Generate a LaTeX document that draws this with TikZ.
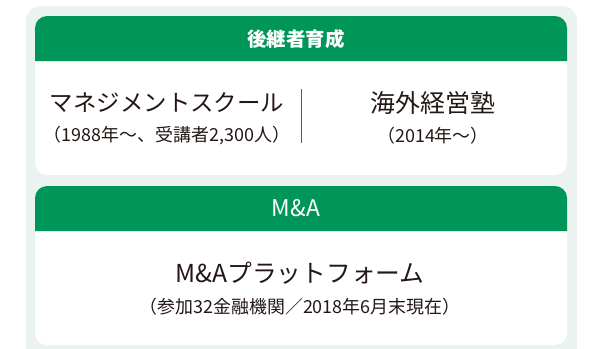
\documentclass[tikz,border=0pt]{standalone}
\usepackage{fontspec}
\setmainfont{Noto Sans CJK JP}
\definecolor{hdrgreen}{RGB}{0,150,90}
\definecolor{outerbg}{RGB}{234,243,239}
\definecolor{txt}{RGB}{35,24,21}
\definecolor{divgreen}{RGB}{0,140,85}
\tikzset{
  hdrtext/.style={text=white, font=\fontsize{19.5}{22}\selectfont\bfseries, inner sep=0pt},
  maintext/.style={text=txt, font=\fontsize{23.5}{27}\selectfont, inner sep=0pt},
  subtext/.style={text=txt, font=\fontsize{18}{21}\selectfont, inner sep=0pt},
  bodybox/.style={fill=white, rounded corners=12bp},
  hdrbox/.style={fill=hdrgreen},
}
\begin{document}
\begin{tikzpicture}[x=1bp,y=-1bp]
\useasboundingbox (0,0) rectangle (594,348);
\clip (0,0) rectangle (594,348);
\fill[white] (0,0) rectangle (594,348);
% outer background
\fill[outerbg, rounded corners=15bp] (26,6) rectangle (577,370);
% box 1
\fill[bodybox] (35,16) rectangle (567,175);
\fill[hdrbox] (35,61) [rounded corners=12bp] -- (35,16) -- (567,16) [sharp corners] -- (567,61) -- cycle;
\node[hdrtext] (h1) at (296,39) {後継者育成};
\node[maintext] (ms) at (167,103) {マネジメントスクール};
\node[subtext] (mssub) at (167,136) {（1988年〜、受講者2,300人）};
\node[maintext, font=\fontsize{25}{29}\selectfont] (kg) at (433,103) {海外経営塾};
\node[subtext] (kgsub) at (433,136) {（2014年〜）};
\coordinate (d1) at (301,89);
\coordinate (d2) at (301,143);
\draw[divgreen, line width=0.8bp] (d1) -- (d2);
% box 2
\fill[bodybox] (35,186) rectangle (567,345);
\fill[hdrbox] (35,231) [rounded corners=12bp] -- (35,186) -- (567,186) [sharp corners] -- (567,231) -- cycle;
\node[hdrtext, font=\fontsize{23}{26}\selectfont] (h2) at (296,208) {M\&A};
\node[maintext, font=\fontsize{24.8}{29}\selectfont] (pf) at (300,273) {M\&Aプラットフォーム};
\node[subtext] (pfsub) at (300,307) {（参加32金融機関／2018年6月末現在）};
\end{tikzpicture}
\end{document}
